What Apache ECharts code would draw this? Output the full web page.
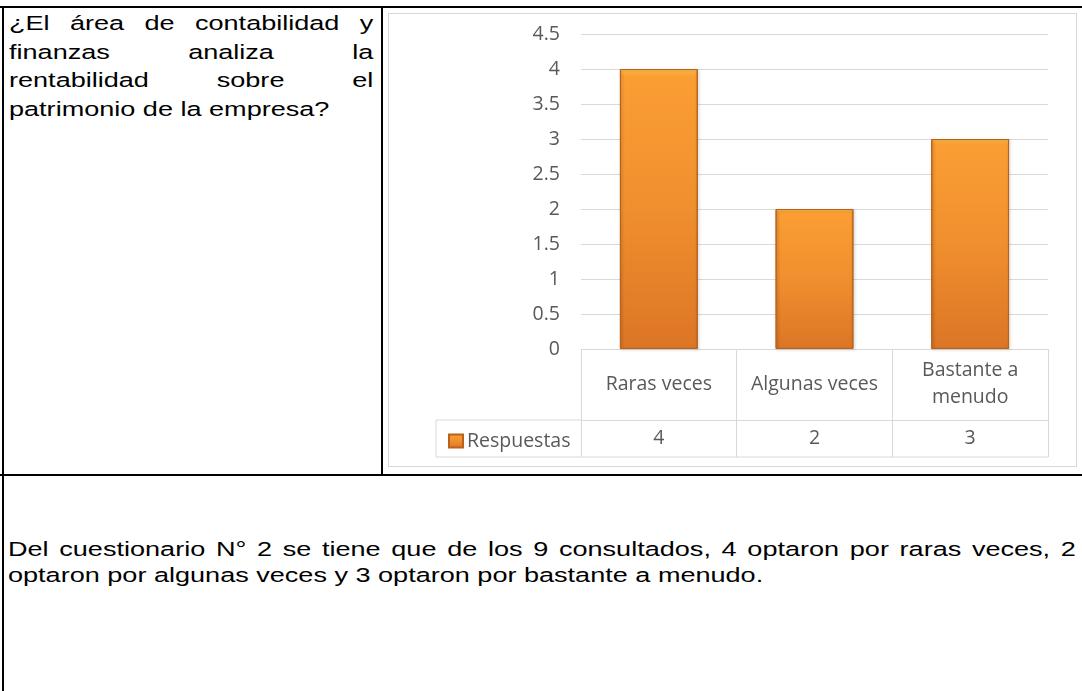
<!DOCTYPE html>
<html>
<head>
<meta charset="utf-8">
<script src="https://cdn.jsdelivr.net/npm/echarts@6/dist/echarts.min.js"></script>
<style>
  html, body { margin: 0; padding: 0; background: #fff; }
  body { width: 1082px; height: 691px; position: relative; overflow: hidden; font-family: "Liberation Sans", Arial, sans-serif; }
  .ln { position: absolute; background: #000; }
  .txt { position: absolute; color: #000; transform-origin: 0 0; font-size: 20.5px; transform: scaleX(1.32); }
  .txt div { text-align: justify; text-align-last: justify; white-space: nowrap; }
  .txt div.last { text-align-last: left; }
  #question { line-height: 28.5px; }
  #para { line-height: 26px; }
  #chartFrame { position: absolute; left: 388px; top: 13px; width: 687px; height: 452px; border: 1px solid #D9D9D9; }
  #chart { width: 687px; height: 452px; }
</style>
</head>
<body>
  <!-- table borders -->
  <div class="ln" style="left:0;top:6px;width:1082px;height:2px"></div>
  <div class="ln" style="left:2px;top:6px;width:2px;height:685px"></div>
  <div class="ln" style="left:381px;top:6px;width:2px;height:470px"></div>
  <div class="ln" style="left:0;top:474px;width:1082px;height:2px"></div>

  <div class="txt" id="question" style="left:9px;top:9px;width:276px;">
    <div>¿El área de contabilidad y</div>
    <div>finanzas analiza la</div>
    <div>rentabilidad sobre el</div>
    <div class="last">patrimonio de la empresa?</div>
  </div>
  <div class="txt" id="para" style="left:8px;top:536px;width:809px;">
    <div>Del cuestionario N° 2 se tiene que de los 9 consultados, 4 optaron por raras veces, 2</div>
    <div class="last">optaron por algunas veces y 3 optaron por bastante a menudo.</div>
  </div>

  <div id="chartFrame"><div id="chart"></div></div>

<script>
const categories = ['Raras veces', 'Algunas veces', 'Bastante a\nmenudo'];
const seriesName = 'Respuestas';
const values = [4, 2, 3];
const yTicks = [0, 0.5, 1, 1.5, 2, 2.5, 3, 3.5, 4, 4.5];

const gray = '#D9D9D9';
const font = '"Open Sans", Lato, sans-serif';
const fs = 19.5;

let dom = document.getElementById('chart');
let myChart = echarts.init(dom, null, {renderer: 'canvas'});

const barColor = new echarts.graphic.LinearGradient(0, 0, 0, 1, [
    {offset: 0, color: '#FFC24A'},
    {offset: 0.025, color: '#FB9E33'},
    {offset: 0.5, color: '#F08F2E'},
    {offset: 1, color: '#DC7526'}
]);

let option = {
    animation: false,
    grid: {left: 192, right: 28, top: 20, bottom: 117},
    legend: {
        data: [seriesName],
        left: 54,
        top: 412,
        icon: 'rect',
        itemWidth: 14,
        itemHeight: 13,
        itemGap: 4,
        textStyle: {fontFamily: font, fontSize: fs, color: '#595959', padding: [0, 0, 0, -1]}
    },
    xAxis: [
        {
            type: 'category',
            data: categories,
            axisLine: {lineStyle: {color: gray}},
            axisTick: {show: true, length: 108, lineStyle: {color: gray}},
            axisLabel: {
                interval: 0, margin: 35, verticalAlign: 'middle', fontFamily: font, fontSize: fs,
                color: '#595959', lineHeight: 27
            }
        },
        {
            type: 'category',
            position: 'bottom',
            offset: 71,
            data: categories,
            axisLine: {show: true, lineStyle: {color: gray}},
            axisTick: {show: false},
            axisLabel: {
                interval: 0, margin: 18, verticalAlign: 'middle', fontFamily: font, fontSize: fs, color: '#595959',
                formatter: (v, i) => String(values[i])
            }
        }
    ],
    yAxis: {
        type: 'value',
        min: yTicks[0],
        max: yTicks[yTicks.length - 1],
        interval: 0.5,
        axisLine: {show: false},
        axisTick: {show: false},
        splitLine: {lineStyle: {color: gray}},
        axisLabel: {margin: 21, fontFamily: font, fontSize: fs, color: '#595959'}
    },
    series: [
        {
            name: seriesName,
            type: 'bar',
            data: values,
            barWidth: '50%',
            itemStyle: {
                color: barColor,
                borderColor: '#B8621C',
                borderWidth: 1,
                shadowColor: 'rgba(0,0,0,0.25)',
                shadowBlur: 3,
                shadowOffsetX: 1,
                shadowOffsetY: 1
            }
        }
    ]
};
myChart.setOption(option);

// table lines for the legend cell under the axis
const c0 = myChart.convertToPixel({xAxisIndex: 0}, categories[0]);
const c1 = myChart.convertToPixel({xAxisIndex: 0}, categories[1]);
const left = c0 - (c1 - c0) / 2;
const right = myChart.getWidth() - 28;
const y0 = myChart.convertToPixel({yAxisIndex: 0}, 0);
const rowY = y0 + 71;
const endY = y0 + 108;
const cellX = 47;
myChart.setOption({
    graphic: [
        {type: 'line', shape: {x1: cellX, y1: rowY, x2: left, y2: rowY}, style: {stroke: gray, lineWidth: 1}},
        {type: 'line', shape: {x1: cellX, y1: endY, x2: right, y2: endY}, style: {stroke: gray, lineWidth: 1}},
        {type: 'line', shape: {x1: cellX, y1: rowY, x2: cellX, y2: endY}, style: {stroke: gray, lineWidth: 1}}
    ]
});
</script>
</body>
</html>
